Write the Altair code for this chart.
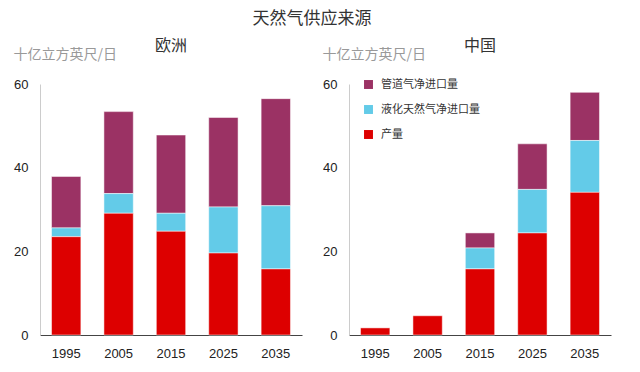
import altair as alt
import pandas as pd

years = ["1995", "2005", "2015", "2025", "2035"]
series = ["管道气净进口量", "液化天然气净进口量", "产量"]
stack_order = {"产量": 0, "液化天然气净进口量": 1, "管道气净进口量": 2}

eu_prod = [23.5, 29.1, 24.8, 19.6, 15.8]
eu_lng = [2.1, 4.7, 4.3, 11.0, 15.1]
eu_pipe = [12.3, 19.6, 18.7, 21.4, 25.6]

cn_prod = [1.7, 4.6, 15.8, 24.4, 34.1]
cn_lng = [0.0, 0.0, 5.0, 10.4, 12.4]
cn_pipe = [0.0, 0.0, 3.6, 10.9, 11.5]

colors = ["#9b3264", "#63cbe8", "#dd0000"]

rows = []
for region, vals in [("欧洲", (eu_pipe, eu_lng, eu_prod)), ("中国", (cn_pipe, cn_lng, cn_prod))]:
    for s, v in zip(series, vals):
        for y, val in zip(years, v):
            rows.append({"region": region, "year": y, "series": s, "value": val,
                         "ord": stack_order[s]})
df = pd.DataFrame(rows)

CJK = "Noto Sans CJK SC"
LAT = "Liberation Sans"


def panel(region, show_legend):
    if show_legend:
        legend = alt.Legend(orient="none", legendX=14, legendY=-5, title=None,
                            symbolType="square", symbolSize=80, symbolStrokeWidth=0,
                            labelFont=CJK, labelFontSize=11, labelColor="#333",
                            rowPadding=13, labelOffset=7)
    else:
        legend = None
    return alt.Chart(df).transform_filter(
        alt.datum.region == region
    ).transform_filter(
        alt.datum.value > 0
    ).mark_bar(stroke="white", strokeWidth=0.5).encode(
        x=alt.X("year:N", sort=years,
                scale=alt.Scale(paddingInner=0.44, paddingOuter=0.22),
                axis=alt.Axis(title=None, labelAngle=0, ticks=False, domainColor="#444",
                              labelPadding=12, labelFont=LAT, labelFontSize=13,
                              labelColor="#222")),
        y=alt.Y("sum(value):Q", scale=alt.Scale(domain=[0, 60], nice=False),
                axis=alt.Axis(values=[0, 20, 40, 60], grid=False, ticks=False,
                              domainColor="#cccccc", labelFont=LAT, labelFontSize=13,
                              labelColor="#222", labelPadding=12,
                              title="十亿立方英尺/日", titleAngle=0, titleX=-27, titleY=-30,
                              titleAlign="left", titleBaseline="middle",
                              titleFont=CJK, titleFontSize=14, titleFontWeight="normal",
                              titleColor="#999999")),
        color=alt.Color("series:N", sort=series,
                        scale=alt.Scale(domain=series, range=colors), legend=legend),
        order=alt.Order("ord:Q", sort="ascending"),
    ).properties(
        width=262, height=251,
        title=alt.TitleParams(region, font=CJK, fontSize=16, fontWeight="normal",
                              color="#333", anchor="middle", offset=-7),
    )


chart = alt.hconcat(panel("欧洲", False), panel("中国", True), spacing=20).resolve_scale(
    color="independent"
).properties(
    title=alt.TitleParams("天然气供应来源", font=CJK, fontSize=17, fontWeight="normal",
                          color="#333", anchor="middle", offset=10),
).configure(
    padding={"left": 5, "top": 2, "right": 5, "bottom": 0},
).configure_view(stroke=None)

chart.save("out.html", embed_options={"renderer": "svg", "actions": False})
